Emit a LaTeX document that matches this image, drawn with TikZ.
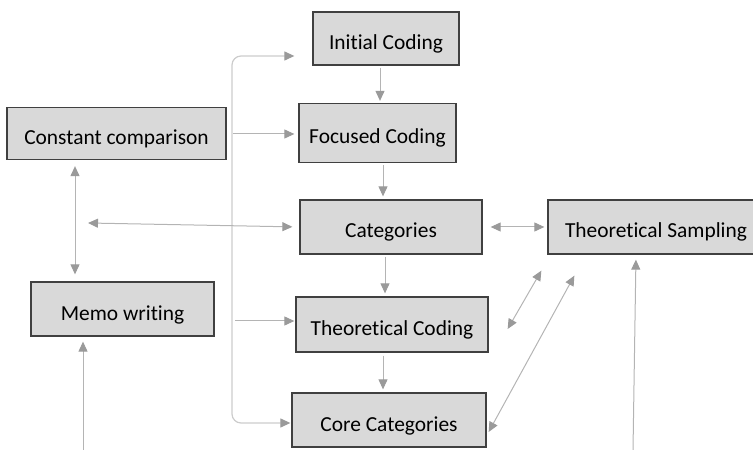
\documentclass[tikz,border=0pt]{standalone}
\usepackage{fontspec}
\setmainfont{Carlito}[Ligatures=NoCommon]
\usetikzlibrary{arrows.meta}
\definecolor{boxfill}{HTML}{D9D9D9}
\definecolor{boxline}{HTML}{404040}
\definecolor{conn}{HTML}{B4B4B4}
\definecolor{spine}{HTML}{CCCCCC}
\definecolor{tipc}{HTML}{9A9A9A}
\begin{document}
\begin{tikzpicture}[x=1bp,y=-1bp,
  box/.style={draw=boxline,line width=1.3bp,fill=boxfill,inner sep=0pt,
    text height=24bp,text depth=2bp,
    font=\fontsize{21.5}{24}\selectfont,text=black},
  conn/.style={draw=conn,line width=1bp,-{Triangle[length=10bp,width=9bp,color=tipc]}},
  dconn/.style={draw=conn,line width=1bp,{Triangle[length=10bp,width=9bp,color=tipc]}-{Triangle[length=10bp,width=9bp,color=tipc]}}]
\useasboundingbox (0,0) rectangle (753,450);
% boxes
\node[box,minimum width=146bp,minimum height=53bp] (ic) at (386,38.5) {Initial Coding};
\node[box,minimum width=157bp,minimum height=59bp] (fc) at (377.5,133) {Focused Coding};
\node[box,minimum width=182bp,minimum height=54bp] (cat) at (391,227) {Categories};
\node[box,minimum width=216bp,minimum height=54bp] (ts) at (656,227) {Theoretical Sampling};
\node[box,minimum width=192bp,minimum height=55bp] (tc) at (392,324.5) {Theoretical Coding};
\node[box,minimum width=194bp,minimum height=54bp] (cc) at (389,420) {Core Categories};
\node[box,minimum width=219bp,minimum height=52bp] (con) at (116.5,133.5) {Constant comparison};
\node[box,minimum width=183bp,minimum height=54bp] (memo) at (122.5,309) {Memo writing};
% coordinates for free ends
\coordinate (spT) at (232,56);
\coordinate (spB) at (232,423);
\coordinate (a1) at (233,134);
\coordinate (a3) at (235,321);
\coordinate (h1) at (88,223);
\coordinate (memoB) at (83,450);
\coordinate (tsB) at (633,450);
% spine
\draw[draw=spine,line width=1.2bp,rounded corners=9bp,
  {Triangle[length=10bp,width=9bp,color=tipc]}-{Triangle[length=10bp,width=9bp,color=tipc]},
  shorten <=18bp, shorten >=1bp]
  (ic.west|-spT) -- (spT) -- (spB) -- (cc.west|-spB);
% horizontal arrows from spine
\draw[conn,shorten >=4bp] (a1) -- (fc.west|-a1);
\draw[conn,shorten >=1bp] (a3) -- (tc.west|-a3);
\draw[dconn,shorten >=7bp] (h1) -- (cat.west);
% main vertical arrows
\draw[conn,shorten <=2bp,shorten >=2bp] (ic.south-|380,0) -- (fc.north-|380,0);
\draw[conn,shorten <=2bp,shorten >=3bp] (fc.south-|383,0) -- (cat.north-|383,0);
\draw[conn,shorten <=2bp,shorten >=3bp] (cat.south-|385,0) -- (tc.north-|385,0);
\draw[conn,shorten <=3bp,shorten >=3bp] (tc.south-|383,0) -- (cc.north-|383,0);
% constant comparison <-> memo
\draw[dconn,shorten <=6bp,shorten >=7bp] (con.south-|75,0) -- (memo.north-|75,0);
% memo up arrow
\draw[conn,shorten >=5bp] (memoB) -- (memo.south-|83,0);
% categories <-> theoretical sampling
\draw[dconn,shorten <=8bp,shorten >=3bp] (cat.east) -- (ts.west);
% diagonals
\draw[dconn] ([shift={(-6bp,-16bp)}]ts.south west) -- ([shift={(19bp,-2bp)}]tc.north east|-0,327);
\draw[dconn] ([shift={(27bp,-21bp)}]ts.south west) -- ([xshift=2bp]cc.east|-0,432);
% theoretical sampling up arrow
\draw[conn,shorten >=5bp] (tsB) -- (ts.south-|636,0);
\end{tikzpicture}
\end{document}
